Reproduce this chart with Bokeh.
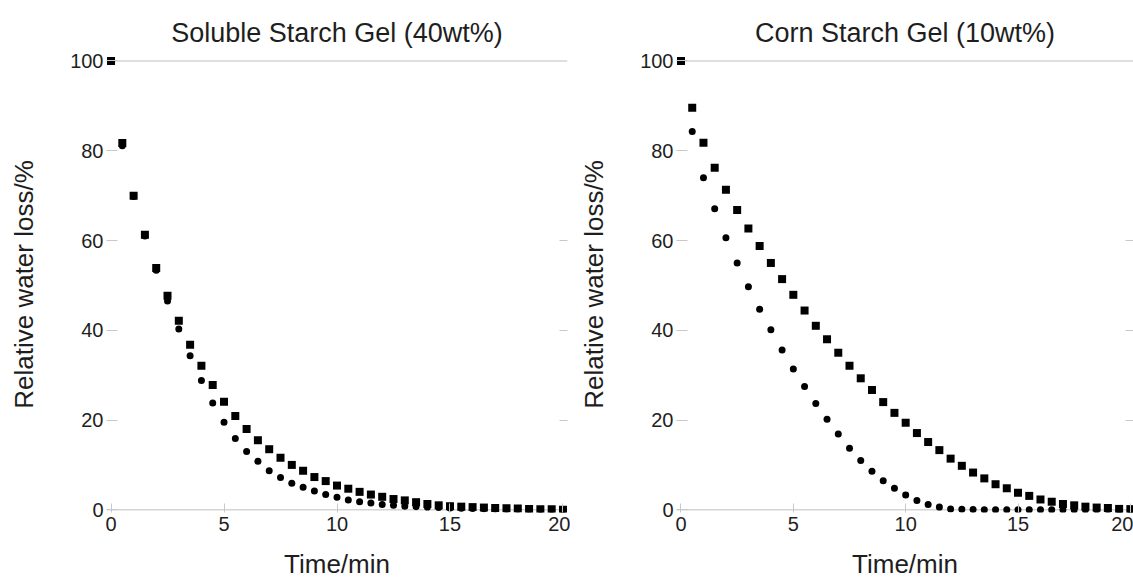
from bokeh.plotting import figure
from bokeh.layouts import row
from bokeh.models import LinearAxis, FixedTicker, Range1d, Span
from bokeh.embed import file_html
from bokeh.resources import INLINE

time_min = [0, 0.5, 1, 1.5, 2, 2.5, 3, 3.5, 4, 4.5, 5, 5.5, 6, 6.5, 7, 7.5, 8, 8.5, 9, 9.5,
            10, 10.5, 11, 11.5, 12, 12.5, 13, 13.5, 14, 14.5, 15, 15.5, 16, 16.5, 17, 17.5,
            18, 18.5, 19, 19.5, 20]

soluble_squares = [100, 81.7, 70.0, 61.3, 53.9, 47.7, 42.1, 36.8, 32.1, 27.8,
                   24.1, 20.9, 18.0, 15.5, 13.5, 11.6, 10.0, 8.7, 7.3, 6.4,
                   5.4, 4.7, 4.0, 3.4, 2.9, 2.4, 2.1, 1.7, 1.3, 1.0,
                   0.8, 0.7, 0.6, 0.5, 0.4, 0.35, 0.3, 0.2, 0.15, 0.1, 0.0]
soluble_circles = [100, 81.1, 69.8, 61.0, 53.4, 46.5, 40.3, 34.3, 28.8, 23.8,
                   19.5, 15.9, 13.0, 10.8, 8.7, 7.2, 5.9, 5.0, 4.2, 3.4,
                   2.8, 2.2, 1.8, 1.5, 1.2, 1.0, 0.8, 0.7, 0.6, 0.5,
                   0.4, 0.35, 0.3, 0.25, 0.2, 0.15, 0.1, 0.1, 0.05, 0.05, 0.0]
corn_squares = [100, 89.6, 81.8, 76.2, 71.3, 66.8, 62.7, 58.8, 55.0, 51.4,
                47.9, 44.4, 41.0, 38.0, 35.0, 32.1, 29.3, 26.7, 24.0, 21.6,
                19.4, 17.1, 15.1, 13.3, 11.4, 9.8, 8.3, 7.0, 5.7, 4.8,
                3.8, 3.1, 2.3, 1.8, 1.3, 1.0, 0.7, 0.5, 0.4, 0.2, 0.15]
corn_circles = [100, 84.3, 74.0, 67.1, 60.6, 55.0, 49.7, 44.7, 40.1, 35.6,
                31.4, 27.5, 23.7, 20.2, 16.9, 13.7, 11.0, 8.6, 6.5, 4.8,
                3.3, 2.1, 1.2, 0.6, 0.2, 0.1, 0.05, 0.0, 0.0, 0.0,
                0.0, 0.0, 0.0, 0.0, 0.0, 0.0, 0.0, 0.0, 0.0, 0.0, 0.0]

x_ticks = [0, 5, 10, 15, 20]
y_ticks = [0, 20, 40, 60, 80, 100]
titles = ["Soluble Starch Gel (40wt%)", "Corn Starch Gel (10wt%)"]
x_label = "Time/min"
y_label = "Relative water loss/%"

FONT = "Liberation Sans"
LINE = "#d4d4d4"
TICK = "#c8c8c8"
TXT = "#1e1e1e"


def make_panel(title, squares, circles, width, bl, br, xr):
    p = figure(width=width, height=583, x_range=Range1d(*xr), y_range=Range1d(-0.6, 101.0),
               output_backend="svg", toolbar_location=None,
               min_border_left=bl, min_border_right=br, min_border_top=56, min_border_bottom=71,
               title=title, x_axis_label=x_label, y_axis_label=y_label)
    p.grid.visible = False
    p.outline_line_color = None
    p.background_fill_color = "white"
    p.border_fill_color = "white"

    p.title.align = "center"
    p.title.text_font = FONT
    p.title.text_font_size = "27px"
    p.title.text_font_style = "normal"
    p.title.text_color = TXT
    p.title.standoff = 17

    # frame lines at y = 0 and y = 100, drawn beneath the markers
    for yv in (0, 100):
        p.add_layout(Span(location=yv, dimension="width", line_color=LINE, line_width=1.5,
                          level="underlay"))

    xa = p.xaxis[0]
    xa.ticker = FixedTicker(ticks=x_ticks)
    xa.axis_line_color = None
    xa.major_tick_line_color = TICK
    xa.major_tick_in = 9
    xa.major_tick_out = 0
    xa.minor_tick_line_color = None
    xa.major_label_text_font = FONT
    xa.major_label_text_font_size = "20px"
    xa.major_label_text_color = TXT
    xa.major_label_standoff = 4
    xa.axis_label_text_font = FONT
    xa.axis_label_text_font_size = "26px"
    xa.axis_label_text_font_style = "normal"
    xa.axis_label_text_color = TXT
    xa.axis_label_standoff = 15

    ya = p.yaxis[0]
    ya.ticker = FixedTicker(ticks=y_ticks)
    ya.axis_line_color = None
    ya.major_tick_line_color = TICK
    ya.major_tick_in = 11
    ya.major_tick_out = 0
    ya.minor_tick_line_color = None
    ya.major_label_text_font = FONT
    ya.major_label_text_font_size = "20px"
    ya.major_label_text_color = TXT
    ya.major_label_standoff = 3
    ya.axis_label_text_font = FONT
    ya.axis_label_text_font_size = "26px"
    ya.axis_label_text_font_style = "normal"
    ya.axis_label_text_color = TXT
    ya.axis_label_standoff = 28

    right = LinearAxis(ticker=FixedTicker(ticks=[20, 40, 60]),
                       axis_line_color=None, major_tick_line_color=TICK,
                       major_tick_in=8, major_tick_out=0, minor_tick_line_color=None,
                       major_label_overrides={20: "", 40: "", 60: ""}, major_label_standoff=0)
    p.add_layout(right, "right")

    p.scatter(time_min, circles, marker="circle", size=7, fill_color="black", line_color="black",
              line_width=0)
    p.scatter(time_min, squares, marker="square", size=8, fill_color="black", line_color="black",
              line_width=0)
    return p


p1 = make_panel(titles[0], soluble_squares, soluble_circles, 570, 106, 3, (-0.2, 20.2))
p2 = make_panel(titles[1], corn_squares, corn_circles, 563, 106, 0, (-0.2, 20.14))
layout = row(p1, p2)
open("out.html", "w").write(file_html(layout, INLINE))
